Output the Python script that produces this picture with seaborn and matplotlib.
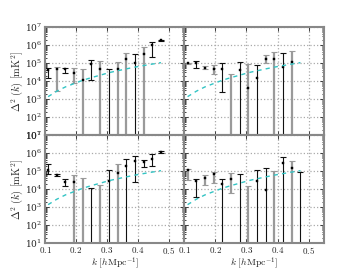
import numpy as np
import pandas as pd
import seaborn as sns
import matplotlib.pyplot as plt
from matplotlib.ticker import FuncFormatter, LogLocator, NullFormatter

sns.set_style("ticks")
plt.rcParams['font.family'] = ['DejaVu Serif']
plt.rcParams['mathtext.fontset'] = 'cm'

# k bins shared by all panels
k = [0.110, 0.138, 0.166, 0.194, 0.222, 0.250, 0.278, 0.306, 0.334, 0.362, 0.390, 0.418, 0.446, 0.474]

# theory / noise curve (dashed cyan)
theory = [1.35e3, 2.7e3, 4.7e3, 7.2e3, 1.1e4, 1.55e4, 2.1e4, 2.9e4, 3.7e4, 4.7e4, 5.9e4, 7.2e4, 8.7e4, 1.05e5]

BOT = 0.5  # lower bound below axis floor
OUT = 5.0  # value below axis floor (marker not visible)
nan = np.nan

# top-left
tl_val = [4.1e4, 4.8e4, 4.5e4, 2.9e4, 1.15e4, 8.5e4, 4.7e4, OUT, 4.7e4, 1.65e5, 1.05e5, 3.2e5, 1.0e6, 1.8e6]
tl_hi = [5.0e4, 6.3e4, 5.2e4, 5.0e4, 4.5e4, 1.5e5, 1.35e5, 4.5e4, 1.2e5, 3.5e5, 3.3e5, 7.4e5, 1.55e6, 2.0e6]
tl_lo = [1.4e4, 2.9e3, 2.9e4, 7.4e3, BOT, 1.2e4, BOT, BOT, BOT, BOT, BOT, BOT, 2.1e5, 1.65e6]
tl_gray = [0, 1, 0, 1, 1, 0, 1, 0, 1, 1, 0, 1, 0, 0]

# top-right
tr_val = [9.5e4, 1.05e5, 5.5e4, 4.7e4, 4.7e4, OUT, 4.1e4, 4.1e3, 1.55e4, 1.65e5, 1.65e5, 5.8e4, 1.15e5, nan]
tr_hi = [1.05e5, 1.35e5, 6.8e4, 7.4e4, 9.5e4, 2.3e4, 1.2e5, 8.5e4, 7.4e4, 2.7e5, 3.9e5, 3.6e5, 4.5e5, nan]
tr_lo = [8.7e4, 5.5e4, 4.5e4, 2.3e4, 2.6e3, BOT, BOT, BOT, BOT, 9.5e4, BOT, BOT, BOT, nan]
tr_gray = [1, 0, 1, 1, 0, 1, 0, 1, 0, 1, 1, 0, 1, 0]

# bottom-left
bl_val = [1.2e5, 6.0e4, 2.3e4, 2.6e4, OUT, OUT, OUT, 2.9e4, 7.4e4, 2.0e5, 3.7e5, 3.3e5, 4.5e5, 1.15e6]
bl_hi = [2.3e5, 6.6e4, 3.5e4, 6.0e4, 3.9e4, 1.1e4, 1.65e4, 1.2e5, 2.45e5, 4.5e5, 6.6e5, 4.1e5, 8.7e5, 1.25e6]
bl_lo = [6.6e4, 5.5e4, 1.5e4, BOT, BOT, BOT, BOT, BOT, BOT, BOT, 2.6e4, 1.6e5, 1.9e5, 1.0e6]
bl_gray = [0, 0, 0, 1, 1, 0, 1, 0, 1, 0, 0, 0, 0, 0]

# bottom-right
br_val = [1.15e5, 2.9e4, 4.3e4, 6.8e4, 1.9e4, 3.6e4, OUT, OUT, 2.9e4, 8.7e3, OUT, 2.7e5, 1.4e5, OUT]
br_hi = [1.3e5, 3.7e4, 6.0e4, 9.1e4, 3.6e4, 7.4e4, 6.6e4, 1.5e4, 1.2e5, 1.4e5, 1.05e5, 5.8e5, 3.5e5, 8.7e4]
br_lo = [3.2e4, 3.5e3, 1.65e4, 2.1e4, BOT, 6.3e3, BOT, BOT, BOT, BOT, BOT, BOT, BOT, BOT]
br_gray = [1, 0, 1, 1, 0, 1, 0, 1, 0, 0, 1, 0, 1, 0]

panels = [
    (tl_val, tl_hi, tl_lo, tl_gray),
    (tr_val, tr_hi, tr_lo, tr_gray),
    (bl_val, bl_hi, bl_lo, bl_gray),
    (br_val, br_hi, br_lo, br_gray),
]

fig, axes = plt.subplots(2, 2, figsize=(3.6, 2.7), dpi=100, sharex=True, sharey=True)
fig.subplots_adjust(left=0.125, right=0.9, top=0.9, bottom=0.1, wspace=0, hspace=0)

for ax, (val, hi, lo, gray) in zip(axes.flat, panels):
    df = pd.DataFrame({"k": k, "val": val, "hi": hi, "lo": lo, "gray": gray})
    for g, col, lw in [(1, '#9a9a9a', 1.6), (0, '#111111', 0.8)]:
        d = df[(df["gray"] == g) & df["val"].notna()]
        ax.errorbar(d["k"], d["val"], yerr=[d["val"] - d["lo"], d["hi"] - d["val"]],
                    fmt='none', ecolor=col, elinewidth=lw, capsize=2, capthick=0.8, zorder=2)
    sns.scatterplot(data=df.dropna(), x="k", y="val", marker='s', s=2.5, color='black',
                    edgecolor='black', linewidth=0.3, ax=ax, zorder=3)
    sns.lineplot(x=k, y=theory, ax=ax, color='#33c4c4', linewidth=1.0,
                 linestyle=(0, (3, 3)), zorder=4)
    ax.set_yscale('log')
    ax.set_xlim(0.1, 0.55)
    ax.set_ylim(10, 1e7)
    ax.set_xticks([0.1, 0.2, 0.3, 0.4, 0.5])
    ax.yaxis.set_major_locator(LogLocator(base=10, numticks=10))
    ax.yaxis.set_minor_locator(LogLocator(base=10, subs=np.arange(2, 10), numticks=10))
    ax.yaxis.set_minor_formatter(NullFormatter())
    ax.xaxis.set_major_formatter(FuncFormatter(lambda v, p: f'${v:.1f}$'))
    ax.grid(True, which='major', linestyle=':', color='#aaaaaa', linewidth=0.9)
    ax.tick_params(which='both', direction='in', top=True, right=True, labelsize=6.5,
                   width=0.6, color='#222222', pad=2)
    ax.tick_params(axis='x', pad=1.5)
    ax.tick_params(which='major', length=3)
    ax.tick_params(which='minor', length=1.5)
    for s in ax.spines.values():
        s.set_color('#888888')
        s.set_linewidth(1.5)
    ax.set_xlabel("")
    ax.set_ylabel("")

for ax in axes[:, 0]:
    ax.set_ylabel(r'$\Delta^2\ (k)\ [\mathrm{mK}^2]$', fontsize=7.5, labelpad=0)
for ax in axes[1, :]:
    ax.set_xlabel(r'$k\ [h\mathrm{Mpc}^{-1}]$', fontsize=7, labelpad=-1)

fig.savefig('out.png', dpi=100)
